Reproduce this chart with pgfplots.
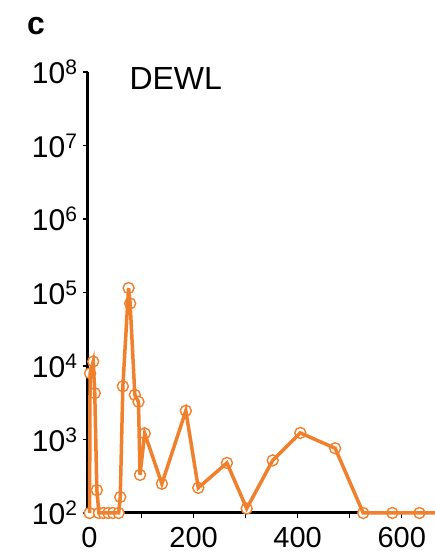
\documentclass[border=0pt]{standalone}
\usepackage{pgfplots}
\pgfplotsset{compat=1.18}
\usepackage{fontspec}
\setmainfont{Liberation Sans}
\definecolor{dewl}{RGB}{240,128,44}
\pgfplotstableread{
x y
0 100
1 7950
7 11500
10 4270
14 205
18 100
27 100
36 100
45 100
56 100
59 165
64 5300
75 115000
78 71000
87 4050
94 3260
97 330
106 1210
139 250
185 2460
209 220
264 480
302 115
352 520
405 1230
472 760
526 100
582 100
634 100
700 100
}\dewldata
\begin{document}
\begin{tikzpicture}
\begin{axis}[
  set layers,
  scale only axis, width=346pt, height=441pt,
  ymode=log, ymin=100, ymax=1e8,
  xmin=-3, xmax=662,
  axis x line=bottom, axis y line=left,
  axis line style={line width=3pt, -, black},
  ytick={1e2,1e3,1e4,1e5,1e6,1e7,1e8},
  yticklabels={10\textsuperscript{2},10\textsuperscript{3},10\textsuperscript{4},10\textsuperscript{5},10\textsuperscript{6},10\textsuperscript{7},10\textsuperscript{8}},
  yminorticks=false,
  xtick={0,200,400,600},
  xticklabels={0,200,400,600},
  minor xtick={100,300,500},
  tick align=outside,
  major tick length=5pt, minor tick length=5pt,
  every tick/.style={black, line width=1.5pt},
  yticklabel style={font=\fontsize{30}{30}\selectfont, xshift=-2pt},
  xticklabel style={font=\fontsize{29}{29}\selectfont, yshift=-6pt},
  clip=true,
]
\addplot[on layer=axis foreground, color=dewl, line width=3.5pt, mark=*, mark size=5.5pt,
  mark options={fill=white, draw=dewl, line width=1.4pt}] table[x=x,y=y] {\dewldata};
\end{axis}
\node[font=\fontsize{32}{32}\selectfont\bfseries] at ([shift={(-52pt,487pt)}]current axis.south west) {c};
\node[font=\fontsize{32}{32}\selectfont, anchor=base west] at ([shift={(38pt,423pt)}]current axis.south west) {DEWL};
\pgfresetboundingbox
\path (current axis.south west) ++(-88pt,-44pt) rectangle ++(434pt,557pt);
\end{tikzpicture}
\end{document}
